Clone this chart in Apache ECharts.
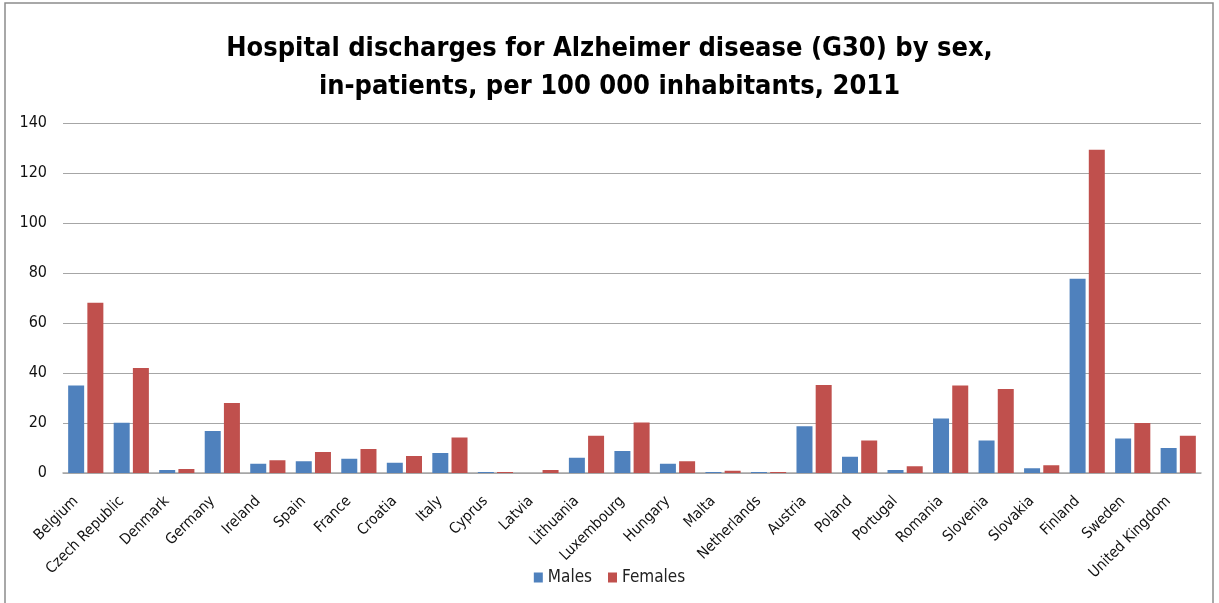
<!DOCTYPE html>
<html>
<head>
<meta charset="utf-8">
<script src="https://cdn.jsdelivr.net/npm/echarts@6/dist/echarts.min.js"></script>
<style>
  html, body { margin: 0; padding: 0; background: #fff; }
  #chart { width: 1219px; height: 603px; }
</style>
</head>
<body>
<div id="chart"></div>
<script>
// values
const countries = ['Belgium', 'Czech Republic', 'Denmark', 'Germany', 'Ireland', 'Spain', 'France', 'Croatia',
  'Italy', 'Cyprus', 'Latvia', 'Lithuania', 'Luxembourg', 'Hungary', 'Malta', 'Netherlands', 'Austria',
  'Poland', 'Portugal', 'Romania', 'Slovenia', 'Slovakia', 'Finland', 'Sweden', 'United Kingdom']
const males = [35.0, 20.1, 1.2, 16.8, 3.7, 4.7, 5.7, 4.1, 8.0, 0.4, 0, 6.1, 8.8, 3.7, 0.4, 0.4, 18.7,
  6.5, 1.2, 21.8, 13.0, 1.9, 77.7, 13.8, 10.0]
const females = [68.1, 42.0, 1.6, 28.0, 5.1, 8.4, 9.6, 6.8, 14.2, 0.4, 1.2, 14.9, 20.2, 4.7, 0.9, 0.4, 35.2,
  13.0, 2.7, 35.0, 33.6, 3.1, 129.3, 20.0, 14.9]
const yTicks = [0, 20, 40, 60, 80, 100, 120, 140]

const font = '"Liberation Sans Narrow", "DejaVu Sans Condensed", sans-serif'

const chart = echarts.init(document.getElementById('chart'))
chart.setOption({
  animation: false,
  color: ['#4F81BD', '#C0504D'],
  title: {
    text: 'Hospital discharges for Alzheimer disease (G30) by sex,\nin-patients, per 100 000 inhabitants, 2011',
    left: 'center',
    top: 25,
    textStyle: {
      fontFamily: font,
      fontWeight: 'bold',
      fontSize: 27,
      lineHeight: 38,
      color: '#000'
    }
  },
  graphic: [{
    type: 'rect',
    shape: { x: 5, y: 3, width: 1208, height: 620 },
    style: { fill: 'none', stroke: '#8c8c8c', lineWidth: 1.5 },
    silent: true
  }],
  legend: {
    data: ['Males', 'Females'],
    bottom: 12,
    left: 'center',
    itemWidth: 9,
    itemHeight: 10,
    itemGap: 16,
    icon: 'rect',
    textStyle: { fontFamily: font, fontSize: 17, color: '#222' }
  },
  grid: {
    left: 63,
    right: 18,
    top: 123,
    bottom: 130
  },
  xAxis: {
    type: 'category',
    data: countries,
    axisLine: { lineStyle: { color: '#a6a6a6', width: 1.5 } },
    axisTick: { show: false },
    axisLabel: {
      rotate: 45,
      interval: 0,
      margin: 16,
      padding: [0, 14, 0, 0],
      fontFamily: font,
      fontSize: 15,
      color: '#111'
    }
  },
  yAxis: {
    type: 'value',
    min: yTicks[0],
    max: yTicks[yTicks.length - 1],
    interval: 20,
    axisLine: { show: false },
    axisTick: { show: false },
    splitLine: { lineStyle: { color: '#a6a6a6', width: 1.2 } },
    axisLabel: {
      margin: 16,
      fontFamily: font,
      fontSize: 16,
      color: '#111'
    }
  },
  series: [
    {
      name: 'Males',
      type: 'bar',
      data: males,
      barWidth: 16,
      barGap: '20%'
    },
    {
      name: 'Females',
      type: 'bar',
      data: females,
      barWidth: 16,
      barGap: '20%'
    }
  ]
})
</script>
</body>
</html>
